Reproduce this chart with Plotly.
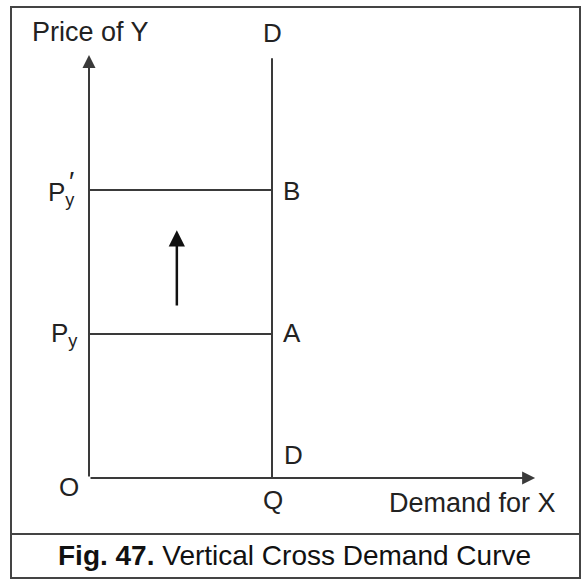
import plotly.graph_objects as go

# ---- data (economic units) ----
q_level = 5.0                 # Q: quantity demanded of X (constant)
price_levels = [2.0, 4.0]     # Py, Py'
point_labels = ["A", "B"]
y_axis_top = 5.875
x_axis_end = 12.19
demand_top = 5.83
shift_arrow_x = 2.4
shift_arrow_from = 2.375
shift_arrow_to = 3.44

# body margin is removed by post_script, so figure pixels == screen pixels
OFF = 0
W, H = 584, 580
OX, OY = 89.0, 478.0
KX, KY = 36.6, 72.0
x_range = [(OFF - OX) / KX, (OFF + W - OX) / KX]
y_range = [(OY - (OFF + H)) / KY, (OY - OFF) / KY]

def px(xs):
    return (xs - OX) / KX

def py(ys):
    return (OY - ys) / KY

def paper_x(xs):
    return (xs - OFF) / W

def paper_y(ys):
    return 1 - (ys - OFF) / H

LINE = "#3a3a3a"
TXT = "#222222"
FONT = "Liberation Sans, Arial, sans-serif"

fig = go.Figure()

# vertical demand curve DD
fig.add_trace(go.Scatter(x=[q_level, q_level], y=[0, demand_top], mode="lines",
                         line=dict(color=LINE, width=2), showlegend=False, hoverinfo="skip"))
# horizontal price lines
for p in price_levels:
    fig.add_trace(go.Scatter(x=[0, q_level], y=[p, p], mode="lines",
                             line=dict(color=LINE, width=2), showlegend=False, hoverinfo="skip"))

annotations = []
annotations.append(dict(x=0, y=y_axis_top, ax=0, ay=0, xref="x", yref="y", axref="x", ayref="y",
                        showarrow=True, arrowhead=2, arrowsize=1.3, arrowwidth=2, arrowcolor=LINE, text=""))
annotations.append(dict(x=x_axis_end, y=0, ax=0, ay=0, xref="x", yref="y", axref="x", ayref="y",
                        showarrow=True, arrowhead=2, arrowsize=1.3, arrowwidth=2, arrowcolor=LINE, text=""))
annotations.append(dict(x=shift_arrow_x, y=shift_arrow_to, ax=shift_arrow_x, ay=shift_arrow_from,
                        xref="x", yref="y", axref="x", ayref="y",
                        showarrow=True, arrowhead=2, arrowsize=1.3, arrowwidth=2.5, arrowcolor="#111", text=""))

def label(text, xs, ys, xanchor="left", size=26):
    annotations.append(dict(x=px(xs), y=py(ys), xref="x", yref="y", text=text, showarrow=False,
                            xanchor=xanchor, yanchor="middle",
                            font=dict(family=FONT, size=size, color=TXT)))

label("Price of Y", 30, 32, size=27)
label("D", 272, 33, xanchor="center")
label("P<sub>y</sub>", 46, 193)
label("′", 67, 181, size=28)
label(point_labels[1], 281, 191)
label("P<sub>y</sub>", 49, 334)
label(point_labels[0], 281, 333)
label("D", 282, 455)
label("O", 69, 487, xanchor="center")
label("Q", 273, 500, xanchor="center")
label("Demand for X", 387, 503, size=27)

annotations.append(dict(x=paper_x(294), y=paper_y(555), xref="paper", yref="paper",
                        text="<b>Fig. 47.</b> Vertical Cross Demand Curve", showarrow=False,
                        xanchor="center", yanchor="middle",
                        font=dict(family=FONT, size=28, color="#111")))

shapes = [
    dict(type="rect", xref="paper", yref="paper", x0=paper_x(11), x1=paper_x(580),
         y0=paper_y(578), y1=paper_y(7), line=dict(color="#444", width=2)),
    dict(type="line", xref="paper", yref="paper", x0=paper_x(11), x1=paper_x(580),
         y0=paper_y(534), y1=paper_y(534), line=dict(color="#444", width=2)),
]

fig.update_layout(
    width=W, height=H,
    margin=dict(l=0, r=0, t=0, b=0),
    paper_bgcolor="white", plot_bgcolor="white",
    xaxis=dict(range=x_range, visible=False, fixedrange=True),
    yaxis=dict(range=y_range, visible=False, fixedrange=True),
    annotations=annotations, shapes=shapes, showlegend=False,
)

fig.write_html("out.html", config={"displayModeBar": False},
               post_script="document.body.style.margin='0';document.body.style.overflow='hidden';")
